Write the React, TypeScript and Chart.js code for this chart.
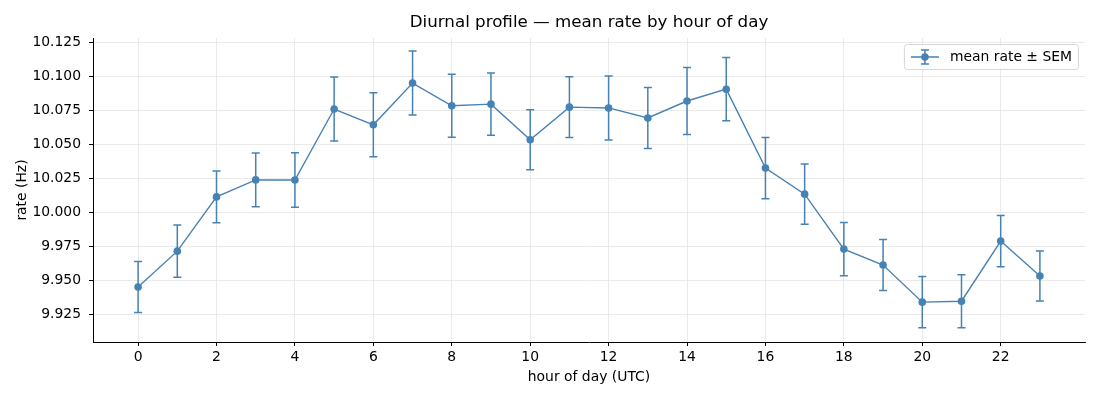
import React, { useEffect, useRef } from 'react';
import { Chart, registerables } from 'chart.js';

Chart.register(...registerables);

const hours = [0, 1, 2, 3, 4, 5, 6, 7, 8, 9, 10, 11, 12, 13, 14, 15, 16, 17, 18, 19, 20, 21, 22, 23];
const meanRate = [
  9.9449, 9.9713, 10.0112, 10.0237, 10.0236, 10.0758, 10.0642, 10.0949, 10.0782, 10.0794, 10.0532, 10.0772,
  10.0766, 10.0692, 10.0817, 10.0904, 10.0324, 10.0132, 9.9728, 9.9611, 9.9338, 9.9345, 9.9787, 9.953,
];
const semRate = [
  0.0188, 0.0192, 0.0191, 0.0198, 0.02, 0.0235, 0.0235, 0.0235, 0.0232, 0.0229, 0.0221, 0.0224,
  0.0235, 0.0224, 0.0246, 0.0232, 0.0225, 0.0221, 0.0195, 0.0188, 0.0188, 0.0195, 0.0188, 0.0184,
];
const xTicks = [0, 2, 4, 6, 8, 10, 12, 14, 16, 18, 20, 22];
const yTicks = [9.925, 9.95, 9.975, 10.0, 10.025, 10.05, 10.075, 10.1, 10.125];
const seriesLabel = 'mean rate \u00b1 SEM';

const LINE = '#4682b4';
const FONT = 'DejaVu Sans';
const GRID = '#e4e4e4';

// draws the SEM whiskers under the markers
const errorBars = {
  id: 'errorBars',
  beforeDatasetsDraw(chart: any) {
    const { ctx, scales } = chart;
    const x = scales.x;
    const y = scales.y;
    ctx.save();
    ctx.strokeStyle = LINE;
    ctx.lineWidth = 1.5;
    hours.forEach((h, i) => {
      const px = x.getPixelForValue(h);
      const top = y.getPixelForValue(meanRate[i] + semRate[i]);
      const bot = y.getPixelForValue(meanRate[i] - semRate[i]);
      ctx.beginPath();
      ctx.moveTo(px, top);
      ctx.lineTo(px, bot);
      ctx.moveTo(px - 4, top);
      ctx.lineTo(px + 4, top);
      ctx.moveTo(px - 4, bot);
      ctx.lineTo(px + 4, bot);
      ctx.stroke();
    });
    ctx.restore();
  },
};

// matplotlib style legend in the upper right of the plot area
const cornerLegend = {
  id: 'cornerLegend',
  afterDraw(chart: any) {
    const { ctx, chartArea } = chart;
    const fs = 13.9;
    ctx.save();
    ctx.font = `${fs}px "${FONT}"`;
    const tw = ctx.measureText(seriesLabel).width;
    const w = 7 + 28 + 11 + tw + 6;
    const h = 25;
    const bx = chartArea.right - 7 - w;
    const by = chartArea.top + 6;
    ctx.beginPath();
    ctx.roundRect(bx + 0.5, by + 0.5, w, h, 3);
    ctx.fillStyle = 'rgba(255,255,255,0.8)';
    ctx.fill();
    ctx.strokeStyle = '#d6d6d6';
    ctx.lineWidth = 1;
    ctx.stroke();

    const cy = by + h / 2 + 0.5;
    const hx0 = bx + 7;
    const hx1 = hx0 + 28;
    const mx = (hx0 + hx1) / 2;
    ctx.strokeStyle = LINE;
    ctx.lineWidth = 1.5;
    ctx.beginPath();
    ctx.moveTo(hx0, cy);
    ctx.lineTo(hx1, cy);
    ctx.moveTo(mx, cy - 7);
    ctx.lineTo(mx, cy + 7);
    ctx.moveTo(mx - 4, cy - 7);
    ctx.lineTo(mx + 4, cy - 7);
    ctx.moveTo(mx - 4, cy + 7);
    ctx.lineTo(mx + 4, cy + 7);
    ctx.stroke();
    ctx.beginPath();
    ctx.arc(mx, cy, 3.8, 0, Math.PI * 2);
    ctx.fillStyle = LINE;
    ctx.fill();

    ctx.fillStyle = '#000';
    ctx.textBaseline = 'middle';
    ctx.textAlign = 'left';
    ctx.fillText(seriesLabel, hx1 + 11, cy);
    ctx.restore();
  },
};

const App: React.FC = () => {
  const canvasRef = useRef<HTMLCanvasElement | null>(null);

  useEffect(() => {
    if (!canvasRef.current) return;
    const ctx = canvasRef.current.getContext('2d');
    if (!ctx) return;

    Chart.defaults.font.family = FONT;
    Chart.defaults.color = '#000';

    const chart = new Chart(ctx, {
      type: 'line',
      data: {
        datasets: [
          {
            label: seriesLabel,
            data: hours.map((h, i) => ({ x: h, y: meanRate[i] })),
            borderColor: LINE,
            backgroundColor: LINE,
            borderWidth: 1.4,
            pointRadius: 3.8,
            pointHoverRadius: 3.8,
            pointBorderWidth: 0,
            tension: 0,
          },
        ],
      },
      options: {
        animation: false,
        responsive: true,
        maintainAspectRatio: false,
        layout: { padding: { left: 0, right: 15, top: 0, bottom: 0 } },
        plugins: {
          legend: { display: false },
          tooltip: { enabled: false },
          title: {
            display: true,
            fullSize: false,
            text: 'Diurnal profile \u2014 mean rate by hour of day',
            color: '#000',
            font: { size: 16.7, weight: 'normal', family: FONT },
            padding: { top: 13, bottom: 5 },
          },
        },
        scales: {
          x: {
            type: 'linear',
            min: -1.15,
            max: 24.15,
            afterBuildTicks: (scale: any) => {
              scale.ticks = xTicks.map((v) => ({ value: v }));
            },
            afterFit: (scale: any) => {
              scale.height = 58;
            },
            ticks: {
              color: '#000',
              font: { size: 13.9 },
              padding: 3,
              maxRotation: 0,
              callback: (v: any) => String(v),
            },
            grid: { color: GRID, lineWidth: 0.8, tickColor: '#000', tickLength: 4, tickWidth: 1 },
            border: { display: true, color: '#000', width: 1 },
            title: {
              display: true,
              text: 'hour of day (UTC)',
              color: '#000',
              font: { size: 13.9 },
              padding: 14,
            },
          },
          y: {
            type: 'linear',
            min: 9.9045,
            max: 10.128,
            afterBuildTicks: (scale: any) => {
              scale.ticks = yTicks.map((v) => ({ value: v }));
            },
            afterFit: (scale: any) => {
              scale.width = 93;
            },
            ticks: {
              color: '#000',
              font: { size: 13.9 },
              padding: 8,
              callback: (v: any) => Number(v).toFixed(3),
            },
            grid: { color: GRID, lineWidth: 0.8, tickColor: '#000', tickLength: 4, tickWidth: 1 },
            border: { display: true, color: '#000', width: 1 },
            title: {
              display: true,
              text: 'rate (Hz)',
              color: '#000',
              font: { size: 13.9 },
              padding: 14,
            },
          },
        },
      },
      plugins: [errorBars, cornerLegend],
    });

    return () => {
      chart.destroy();
    };
  }, []);

  return (
    <div style={{ position: 'absolute', left: 0, top: 0, width: '1100px', height: '400px', background: '#fff' }}>
      <canvas ref={canvasRef} />
    </div>
  );
};

export default App;
